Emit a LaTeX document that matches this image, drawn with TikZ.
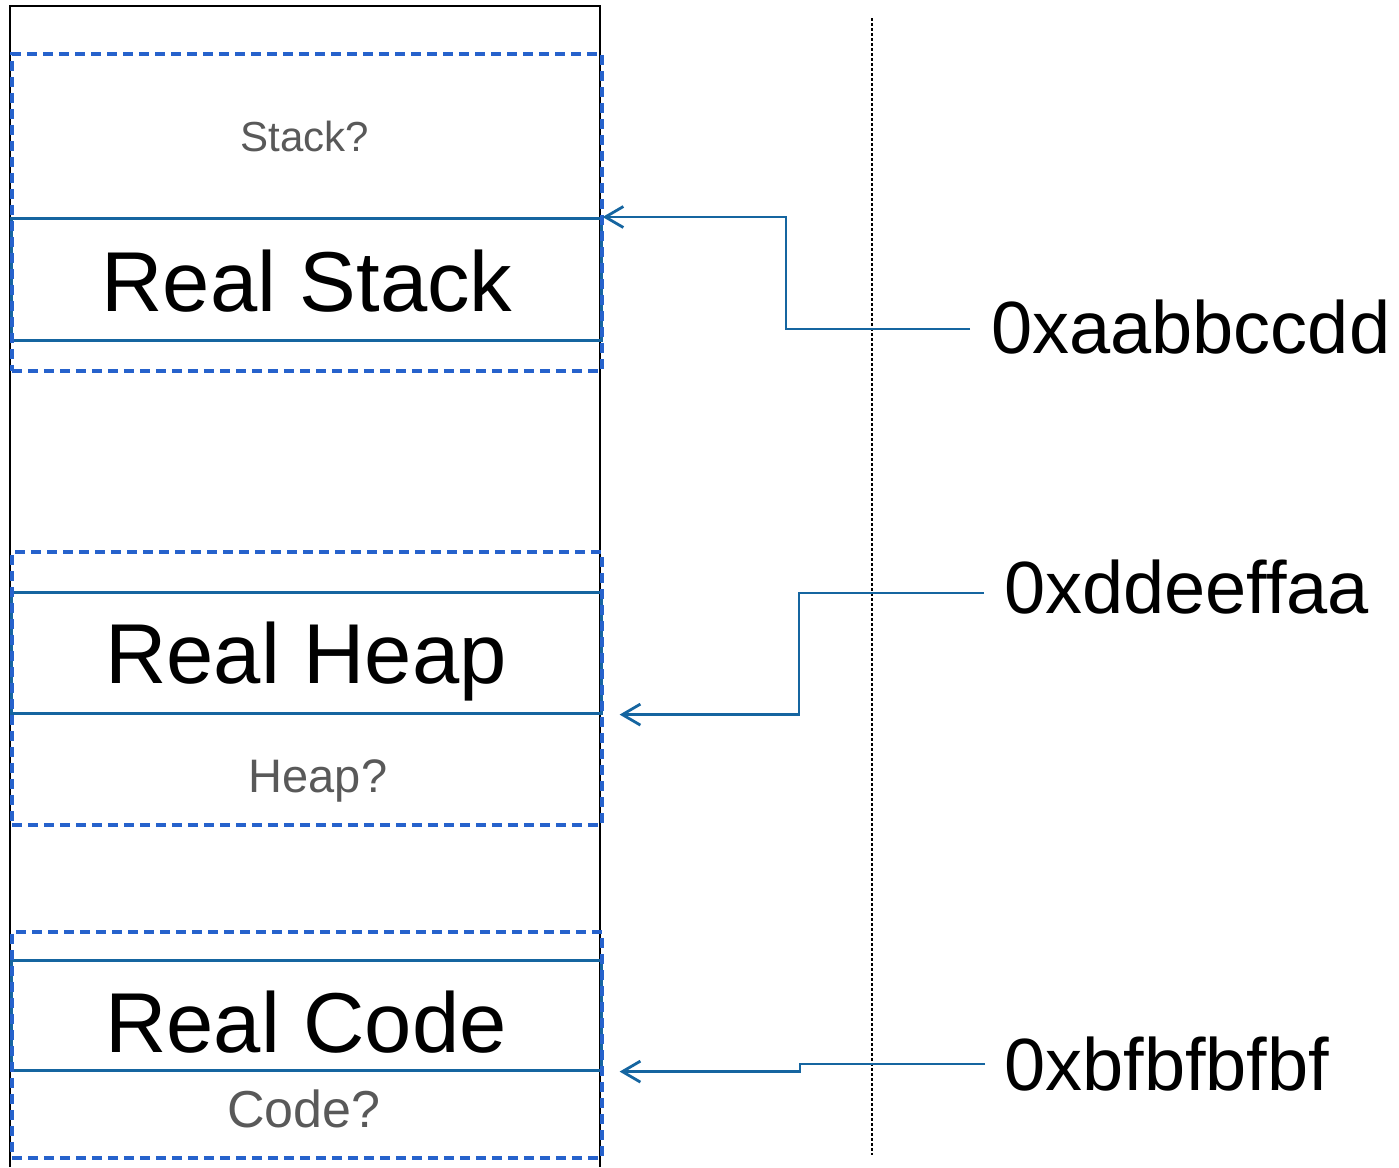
\documentclass[tikz,border=0pt]{standalone}
\usepackage{fontspec}
\setmainfont{Liberation Sans}
\usetikzlibrary{arrows.meta}
\definecolor{linkblue}{RGB}{21,101,160}
\definecolor{dashblue}{RGB}{38,98,204}
\definecolor{hintgrey}{RGB}{89,89,89}
\begin{document}
\begin{tikzpicture}[x=1pt,y=-1pt,
  realbox/.style={draw=linkblue, line width=2.6pt, minimum width=590pt, inner sep=0pt, anchor=north west},
  guessbox/.style={draw=dashblue, line width=3.6pt, dash pattern=on 10pt off 6pt, minimum width=590pt, inner sep=0pt, anchor=north west},
  bigtext/.style={inner sep=0pt, anchor=base, font=\fontsize{85}{90}\selectfont},
  hinttext/.style={inner sep=0pt, anchor=base, text=hintgrey},
  addrtext/.style={inner sep=0pt, anchor=base west, font=\fontsize{74}{80}\selectfont},
  conn/.style={draw=linkblue, line width=2.8pt, -{Straight Barb[length=18pt,width=21pt]}},
  divider/.style={draw=black, line width=1.1pt, dash pattern=on 3pt off 2pt}
]
\useasboundingbox (0,0) rectangle (1399,1167);

% memory column outline (open at the bottom)
\draw[line width=2.4pt] (10,1167) -- (10,6) -- (600,6) -- (600,1167);

% divider between memory and addresses
\draw[divider] (872,18) -- (872,1155);

% actual segments
\node[realbox, minimum height=122pt] (rs) at (10,217) {};
\node[realbox, minimum height=121pt] (rh) at (10,591) {};
\node[realbox, minimum height=110pt] (rc) at (10,959) {};

% assumed segments
\node[guessbox, minimum height=317pt] (gs) at (10,52) {};
\node[guessbox, minimum height=273pt] (gh) at (10,550) {};
\node[guessbox, minimum height=226pt] (gc) at (10,930) {};

% labels
\node[hinttext, font=\fontsize{42}{48}\selectfont] (ls) at (305,151) {Stack?};
\node[bigtext] (lrs) at (307,311) {Real Stack};
\node[bigtext] (lrh) at (306,683) {Real Heap};
\node[hinttext, font=\fontsize{47}{52}\selectfont] (lh) at (318,792) {Heap?};
\node[bigtext] (lrc) at (306,1052) {Real Code};
\node[hinttext, font=\fontsize{52}{56}\selectfont] (lc) at (304,1127) {Code?};

% addresses
\node[addrtext] (a1) at (991,353) {0xaabbccdd};
\node[addrtext] (a2) at (1004,613) {0xddeeffaa};
\node[addrtext] (a3) at (1004,1090) {0xbfbfbfbf};

\coordinate (s1) at (970,329);
\coordinate (s2) at (984,593);
\coordinate (s3) at (985,1064);

% pointers
\draw[conn] (s1) -- (786,329) |- (rs.north east);
\draw[conn] (s2) -- (799,593) |- ([xshift=17pt]rh.south east);
\draw[conn] (s3) -- (800,1064) |- ([xshift=17pt]rc.south east);
\end{tikzpicture}
\end{document}
